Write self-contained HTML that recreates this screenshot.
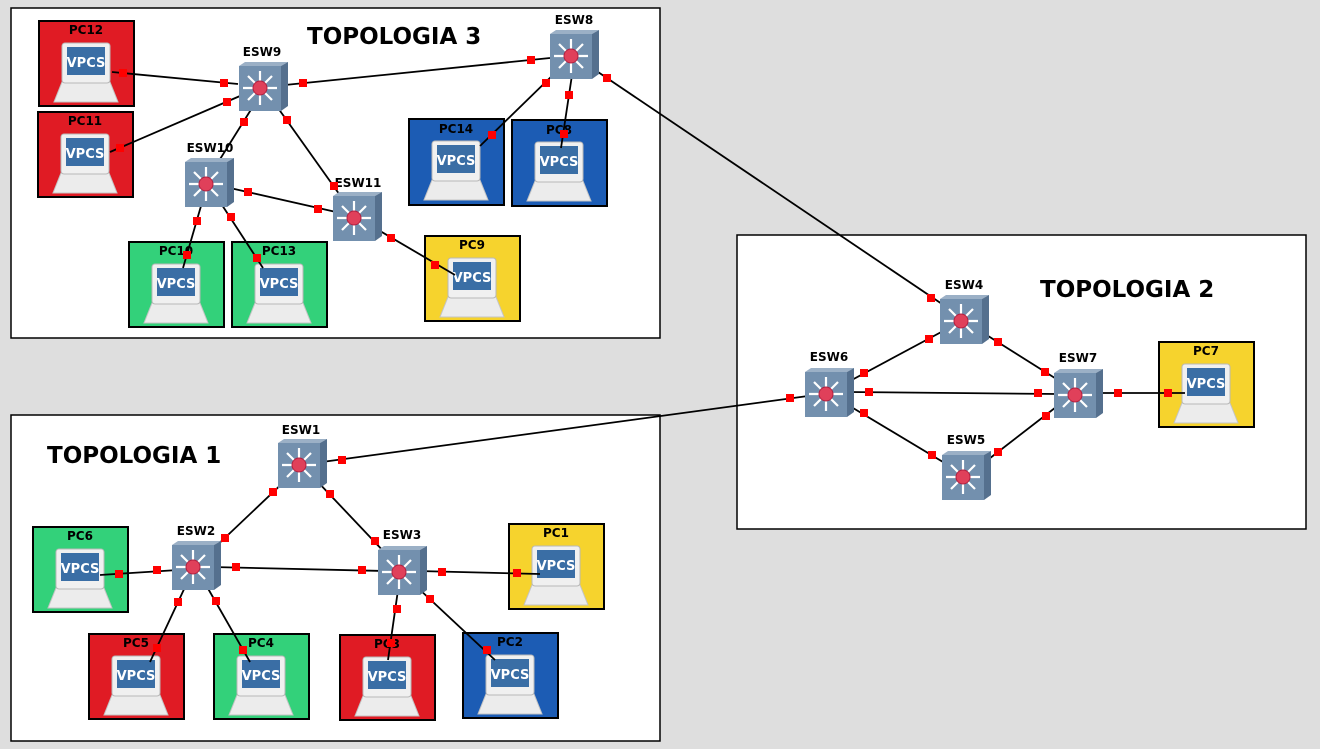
<!DOCTYPE html>
<html><head><meta charset="utf-8"><style>
html,body{margin:0;padding:0;background:#dedede;}
svg{display:block;font-family:"DejaVu Sans","Liberation Sans",sans-serif;}
.t{font-weight:bold;font-size:23px;}
.l{font-weight:bold;font-size:12px;text-anchor:middle;}
</style></head><body>
<svg width="1320" height="749" viewBox="0 0 1320 749" xmlns="http://www.w3.org/2000/svg">
<defs>
<g id="sw">
  <polygon points="-21,-22 -15,-26 28,-26 21,-22" fill="#9bb0c6"/>
  <polygon points="21,-22 28,-26 28,18 21,23" fill="#55708e"/>
  <rect x="-21" y="-22" width="42" height="45" fill="#7390ae"/>
  <g stroke="#fff" stroke-width="2.2">
    <line x1="-17" y1="0" x2="17" y2="0"/><line x1="0" y1="-17" x2="0" y2="17"/>
    <line x1="-12" y1="-12" x2="12" y2="12"/><line x1="-12" y1="12" x2="12" y2="-12"/>
  </g>
  <circle cx="0" cy="0" r="7" fill="#e0405a" stroke="#b02040"/>
</g>
<g id="pc">
  <polygon points="23,61 71,61 79,81 15,81" fill="#ececec" stroke="#c4c4c4"/>
  <rect x="23" y="22" width="48" height="40" rx="3" fill="#f0f0f0" stroke="#b8b8b8"/>
  <rect x="28" y="26" width="38" height="28" fill="#3a6ea5"/>
  <text x="47" y="46" fill="#fff" font-weight="bold" font-size="13" text-anchor="middle">VPCS</text>
</g>
</defs>
<rect x="11" y="8" width="649" height="330" fill="#fff" stroke="#000" stroke-width="1.5"/>
<rect x="737" y="235" width="569" height="294" fill="#fff" stroke="#000" stroke-width="1.5"/>
<rect x="11" y="415" width="649" height="326" fill="#fff" stroke="#000" stroke-width="1.5"/>
<text class="t" x="307" y="44">TOPOLOGIA 3</text>
<text class="t" x="1040" y="297">TOPOLOGIA 2</text>
<text class="t" x="47" y="463">TOPOLOGIA 1</text>

<g stroke="#000" stroke-width="2">
<rect x="39" y="21" width="95" height="85" fill="#e01b24"/>
<rect x="38" y="112" width="95" height="85" fill="#e01b24"/>
<rect x="409" y="119" width="95" height="86" fill="#1c5cb4"/>
<rect x="512" y="120" width="95" height="86" fill="#1c5cb4"/>
<rect x="129" y="242" width="95" height="85" fill="#33d17a"/>
<rect x="232" y="242" width="95" height="85" fill="#33d17a"/>
<rect x="425" y="236" width="95" height="85" fill="#f6d32d"/>
<rect x="1159" y="342" width="95" height="85" fill="#f6d32d"/>
<rect x="33" y="527" width="95" height="85" fill="#33d17a"/>
<rect x="509" y="524" width="95" height="85" fill="#f6d32d"/>
<rect x="89" y="634" width="95" height="85" fill="#e01b24"/>
<rect x="214" y="634" width="95" height="85" fill="#33d17a"/>
<rect x="340" y="635" width="95" height="85" fill="#e01b24"/>
<rect x="463" y="633" width="95" height="85" fill="#1c5cb4"/>
</g>
<use href="#pc" x="39" y="21"/><use href="#pc" x="38" y="112"/><use href="#pc" x="409" y="119"/><use href="#pc" x="512" y="120"/>
<use href="#pc" x="129" y="242"/><use href="#pc" x="232" y="242"/><use href="#pc" x="425" y="236"/><use href="#pc" x="1159" y="342"/>
<use href="#pc" x="33" y="527"/><use href="#pc" x="509" y="524"/><use href="#pc" x="89" y="634"/><use href="#pc" x="214" y="634"/>
<use href="#pc" x="340" y="635"/><use href="#pc" x="463" y="633"/>
<g class="l">
<text x="86" y="34">PC12</text><text x="85" y="125">PC11</text><text x="456" y="133">PC14</text><text x="559" y="134">PC8</text>
<text x="176" y="255">PC10</text><text x="279" y="255">PC13</text><text x="472" y="249">PC9</text><text x="1206" y="355">PC7</text>
<text x="80" y="540">PC6</text><text x="556" y="537">PC1</text><text x="136" y="647">PC5</text><text x="261" y="647">PC4</text>
<text x="387" y="648">PC3</text><text x="510" y="646">PC2</text>
</g>

<g stroke="#000" stroke-width="1.8">
<line x1="112" y1="72" x2="238" y2="84"/>
<line x1="110" y1="152" x2="240" y2="96"/>
<line x1="285" y1="85" x2="550" y2="58"/>
<line x1="252" y1="108" x2="212" y2="172"/>
<line x1="278" y1="108" x2="342" y2="198"/>
<line x1="230" y1="188" x2="336" y2="212"/>
<line x1="201" y1="206" x2="183" y2="268"/>
<line x1="222" y1="205" x2="263" y2="268"/>
<line x1="375" y1="228" x2="455" y2="275"/>
<line x1="556" y1="72" x2="480" y2="146"/>
<line x1="572" y1="75" x2="561" y2="148"/>
<line x1="598" y1="72" x2="945" y2="306"/>
<line x1="945" y1="330" x2="848" y2="382"/>
<line x1="985" y1="334" x2="1058" y2="380"/>
<line x1="848" y1="392" x2="1058" y2="394"/>
<line x1="848" y1="405" x2="948" y2="465"/>
<line x1="985" y1="462" x2="1060" y2="404"/>
<line x1="1095" y1="393" x2="1185" y2="393"/>
<line x1="808" y1="396" x2="322" y2="462"/>
<line x1="288" y1="478" x2="210" y2="552"/>
<line x1="316" y1="480" x2="388" y2="556"/>
<line x1="178" y1="570" x2="100" y2="575"/>
<line x1="212" y1="567" x2="384" y2="571"/>
<line x1="186" y1="585" x2="150" y2="662"/>
<line x1="206" y1="585" x2="250" y2="662"/>
<line x1="418" y1="571" x2="540" y2="574"/>
<line x1="398" y1="590" x2="388" y2="660"/>
<line x1="418" y1="588" x2="495" y2="660"/>
</g>

<use href="#sw" x="260" y="88"/><use href="#sw" x="571" y="56"/><use href="#sw" x="206" y="184"/><use href="#sw" x="354" y="218"/>
<use href="#sw" x="961" y="321"/><use href="#sw" x="826" y="394"/><use href="#sw" x="1075" y="395"/><use href="#sw" x="963" y="477"/>
<use href="#sw" x="299" y="465"/><use href="#sw" x="193" y="567"/><use href="#sw" x="399" y="572"/>
<g class="l">
<text x="262" y="56">ESW9</text><text x="574" y="24">ESW8</text><text x="210" y="152">ESW10</text><text x="358" y="187">ESW11</text>
<text x="964" y="289">ESW4</text><text x="829" y="361">ESW6</text><text x="1078" y="362">ESW7</text><text x="966" y="444">ESW5</text>
<text x="301" y="434">ESW1</text><text x="196" y="535">ESW2</text><text x="402" y="539">ESW3</text>
</g>

<g fill="#f00">
<rect x="119" y="69" width="8" height="8"/><rect x="220" y="79" width="8" height="8"/>
<rect x="116" y="144" width="8" height="8"/><rect x="223" y="98" width="8" height="8"/>
<rect x="299" y="79" width="8" height="8"/><rect x="527" y="56" width="8" height="8"/>
<rect x="240" y="118" width="8" height="8"/><rect x="283" y="116" width="8" height="8"/><rect x="330" y="182" width="8" height="8"/>
<rect x="244" y="188" width="8" height="8"/><rect x="314" y="205" width="8" height="8"/>
<rect x="193" y="217" width="8" height="8"/><rect x="183" y="251" width="8" height="8"/>
<rect x="227" y="213" width="8" height="8"/><rect x="253" y="254" width="8" height="8"/>
<rect x="387" y="234" width="8" height="8"/><rect x="431" y="261" width="8" height="8"/>
<rect x="542" y="79" width="8" height="8"/><rect x="488" y="131" width="8" height="8"/>
<rect x="565" y="91" width="8" height="8"/><rect x="560" y="130" width="8" height="8"/>
<rect x="603" y="74" width="8" height="8"/><rect x="927" y="294" width="8" height="8"/>
<rect x="925" y="335" width="8" height="8"/><rect x="860" y="369" width="8" height="8"/>
<rect x="994" y="338" width="8" height="8"/><rect x="1041" y="368" width="8" height="8"/>
<rect x="865" y="388" width="8" height="8"/><rect x="1034" y="389" width="8" height="8"/>
<rect x="860" y="409" width="8" height="8"/><rect x="928" y="451" width="8" height="8"/>
<rect x="994" y="448" width="8" height="8"/><rect x="1042" y="412" width="8" height="8"/>
<rect x="1114" y="389" width="8" height="8"/><rect x="1164" y="389" width="8" height="8"/>
<rect x="786" y="394" width="8" height="8"/><rect x="338" y="456" width="8" height="8"/>
<rect x="269" y="488" width="8" height="8"/><rect x="221" y="534" width="8" height="8"/>
<rect x="326" y="490" width="8" height="8"/><rect x="371" y="537" width="8" height="8"/>
<rect x="153" y="566" width="8" height="8"/><rect x="115" y="570" width="8" height="8"/>
<rect x="232" y="563" width="8" height="8"/><rect x="358" y="566" width="8" height="8"/>
<rect x="174" y="598" width="8" height="8"/><rect x="153" y="644" width="8" height="8"/>
<rect x="212" y="597" width="8" height="8"/><rect x="239" y="646" width="8" height="8"/>
<rect x="438" y="568" width="8" height="8"/><rect x="513" y="569" width="8" height="8"/>
<rect x="393" y="605" width="8" height="8"/><rect x="387" y="639" width="8" height="8"/>
<rect x="426" y="595" width="8" height="8"/><rect x="483" y="646" width="8" height="8"/>
</g>
</svg>
</body></html>
